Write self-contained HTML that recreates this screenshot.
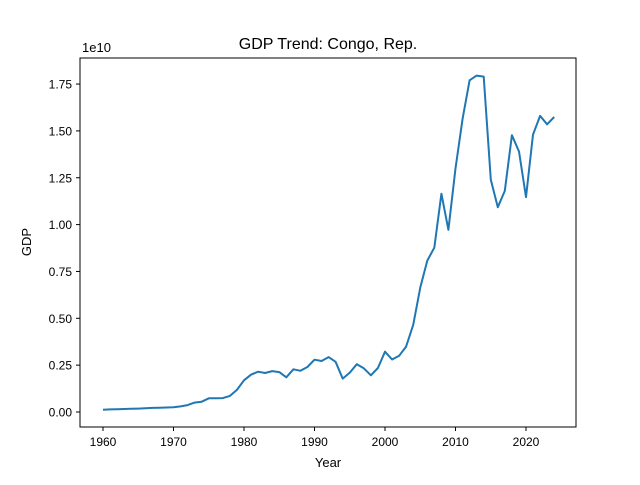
<!DOCTYPE html>
<html><head><meta charset="utf-8"><style>
body{margin:0;background:#fff}
svg{font-family:"Liberation Sans","DejaVu Sans",sans-serif}
</style></head><body>
<svg id="chart" width="640" height="480" viewBox="0 0 640 480">
<rect width="640" height="480" fill="#fff"/>
<text x="328" y="49" font-size="16" text-anchor="middle">GDP Trend: Congo, Rep.</text>
<text x="82" y="52" font-size="13">1e10</text>
<text x="328" y="467" font-size="13" text-anchor="middle">Year</text>
<text x="31" y="242" font-size="13" text-anchor="middle" transform="rotate(-90 31 242)">GDP</text>
<g id="ticks"></g>
<path id="line" fill="none" stroke="#1f77b4" stroke-width="2" stroke-linejoin="round"/>
<rect x="80" y="58" width="496" height="369" fill="none" stroke="#000" stroke-width="1"/>
</svg>
<script>
const years = [];
for (let y = 1960; y <= 2024; y++) years.push(y);
const gdp = [.012,.014,.015,.016,.017,.018,.020,.022,.023,.024,.025,.030,.037,.050,.055,.073,.073,.074,.086,.118,
.169,.199,.215,.208,.218,.213,.185,.228,.220,.240,.279,.272,.293,.268,.178,.210,.255,.233,.196,.235,
.322,.280,.300,.349,.465,.665,.808,.877,1.165,.972,1.30,1.565,1.77,1.795,1.79,1.24,1.093,1.18,1.477,1.39,
1.147,1.48,1.58,1.535,1.574];
const xTicks = [1960,1970,1980,1990,2000,2010,2020];
const yTicks = [0,0.25,0.5,0.75,1.0,1.25,1.5,1.75];
const yTickLabels = ["0.00","0.25","0.50","0.75","1.00","1.25","1.50","1.75"];
function xs(v){return 103 + (v-1960)*(423/60);}
function ys(v){return 412 - v*187.4;}
const ns="http://www.w3.org/2000/svg";
const g=document.getElementById('ticks');
xTicks.forEach(t=>{
  const l=document.createElementNS(ns,'line');
  l.setAttribute('x1',xs(t));l.setAttribute('x2',xs(t));l.setAttribute('y1',427);l.setAttribute('y2',431);l.setAttribute('stroke','#000');
  
  
  g.appendChild(l);
  const tx=document.createElementNS(ns,'text');
  tx.setAttribute('x',xs(t));tx.setAttribute('y',446);tx.setAttribute('font-size','12');tx.setAttribute('text-anchor','middle');
  tx.textContent=t;
  
  
  g.appendChild(tx);
});
yTicks.forEach((t,i)=>{
  const l=document.createElementNS(ns,'line');
  l.setAttribute('x1',76);l.setAttribute('x2',80);l.setAttribute('y1',ys(t));l.setAttribute('y2',ys(t));l.setAttribute('stroke','#000');
  
  
  g.appendChild(l);
  const tx=document.createElementNS(ns,'text');
  tx.setAttribute('x',72);tx.setAttribute('y',ys(t)+4.5);tx.setAttribute('font-size','12');tx.setAttribute('text-anchor','end');
  tx.textContent=yTickLabels[i];
  
  
  g.appendChild(tx);
});
document.getElementById('line').setAttribute('d',years.map((y,i)=>(i?'L':'M')+xs(y).toFixed(1)+','+ys(gdp[i]).toFixed(1)).join(''));
</script>
</body></html>
